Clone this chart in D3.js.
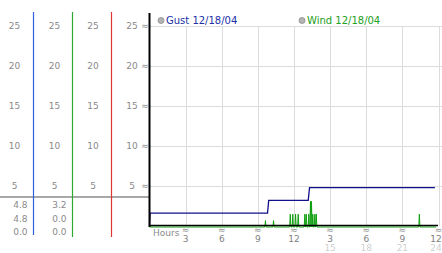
<!DOCTYPE html>
<html>
<head>
<meta charset="utf-8">
<script src="https://cdn.jsdelivr.net/npm/d3@7"></script>
<style>
  body { margin: 0; background: #fff; }
  svg { display: block; }
</style>
</head>
<body>
<svg id="container"></svg>
<script>
// values
const yTicks = [5, 10, 15, 20, 25];
const hourTicks = [3, 6, 9, 12, 15, 18, 21, 24];
const hourLabels12 = ["3", "6", "9", "12", "3", "6", "9", "12"];
const hourLabels24 = ["", "", "", "", "15", "18", "21", "24"];
const seriesNames = ["Gust 12/18/04", "Wind 12/18/04"];
const gustStats = ["4.8", "4.8", "0.0"];
const windStats = ["3.2", "0.0", "0.0"];

const gustHours = [0, 0.05, 9.8, 9.9, 13.18, 13.29, 23.7];
const gustMph   = [0, 1.6, 1.6, 3.2, 3.2, 4.8, 4.8];

const windHours = [0, 9.58, 9.63, 9.68, 10.25, 10.3, 10.35, 11.64, 11.69, 11.74,
  11.85, 11.9, 11.95, 12.08, 12.13, 12.18, 12.3, 12.35, 12.4, 12.85, 12.9, 12.95,
  12.97, 13.02, 13.07, 13.18, 13.23, 13.28, 13.32, 13.37, 13.41, 13.45, 13.5,
  13.51, 13.56, 13.61, 13.68, 13.73, 13.78, 13.8, 13.85, 13.9, 22.36, 22.41, 22.46, 23.8];
const windMph = [0, 0, 0.8, 0, 0, 0.8, 0, 0, 1.6, 0,
  0, 1.6, 0, 0, 1.6, 0, 0, 1.6, 0, 0, 1.6, 0,
  0, 1.6, 0, 0, 1.6, 0, 0, 3.2, 0, 3.2, 0,
  0, 1.6, 0, 0, 1.6, 0, 0, 1.6, 0, 0, 1.6, 0, 0];

let width = 442, height = 253;
let svg = d3.select("#container").attr("width", width).attr("height", height);

const font = "DejaVu Sans, Verdana, sans-serif";

const x = d3.scaleLinear().domain([0, 24]).range([149.5, 438.5]);
const y = d3.scaleLinear().domain([0, 25]).range([226, 26]);

// grid
svg.append("g").selectAll("line").data(yTicks).enter().append("line")
  .attr("x1", 150).attr("x2", width)
  .attr("y1", d => Math.round(y(d)) + 0.5).attr("y2", d => Math.round(y(d)) + 0.5)
  .attr("stroke", "#dcdcdc");
svg.append("g").selectAll("line").data(hourTicks).enter().append("line")
  .attr("x1", d => Math.round(x(d)) + 0.5).attr("x2", d => Math.round(x(d)) + 0.5)
  .attr("y1", y(25)).attr("y2", y(0))
  .attr("stroke", "#dcdcdc");

// left side label columns
const colCenters = [14.5, 54.5, 93, 132];
colCenters.forEach(cx => {
  svg.append("g").selectAll("text").data(yTicks).enter().append("text")
    .attr("x", cx).attr("y", d => y(d)).attr("dy", "0.35em")
    .attr("text-anchor", "middle")
    .style("font-family", font).style("font-size", "9px").style("fill", "#8a8a8a")
    .text(d => d);
});
// squiggle ticks on the left axis
svg.append("g").selectAll("text").data(yTicks).enter().append("text")
  .attr("x", 145).attr("y", d => y(d)).attr("dy", "0.35em")
  .attr("text-anchor", "middle")
  .style("font-family", font).style("font-size", "9px").style("fill", "#909090")
  .text("≈");

// gray separator
svg.append("line").attr("x1", 0).attr("x2", 149).attr("y1", 197).attr("y2", 197)
  .attr("stroke", "#a8a8a8").attr("stroke-width", 2);

// coloured column dividers
const dividers = [{x: 33.5, c: "#2f5fe0", y2: 235}, {x: 72.5, c: "#30a830", y2: 237}, {x: 111.5, c: "#e03535", y2: 237}];
svg.append("g").selectAll("line").data(dividers).enter().append("line")
  .attr("x1", d => d.x).attr("x2", d => d.x).attr("y1", 12).attr("y2", d => d.y2)
  .attr("stroke", d => d.c).attr("stroke-width", 1.2);

// stats under separator
const statRows = [205, 218.5, 231.5];
[[gustStats, 27.5], [windStats, 66.5]].forEach(([vals, rx]) => {
  svg.append("g").selectAll("text").data(vals).enter().append("text")
    .attr("x", rx).attr("y", (d, i) => statRows[i]).attr("dy", "0.35em")
    .attr("text-anchor", "end")
    .style("font-family", font).style("font-size", "9px").style("fill", "#8a8a8a")
    .text(d => d);
});

// legend
const legendX = [161, 302];
const legendColors = ["#2030a8", "#22a022"];
seriesNames.forEach((name, i) => {
  svg.append("circle").attr("cx", legendX[i]).attr("cy", 20.5).attr("r", 3)
    .attr("fill", "#b4b4b4").attr("stroke", "#8c8c8c").attr("stroke-width", 0.8);
  svg.append("text").attr("x", legendX[i] + 5).attr("y", 20.5).attr("dy", "0.35em")
    .style("font-family", font).style("font-size", "10px").style("fill", legendColors[i])
    .text(name);
});

// series lines
svg.append("path").datum(windHours.map((h, i) => [h, windMph[i]]))
  .attr("d", d3.line().x(d => x(d[0])).y(d => y(d[1]) + 1)).attr("fill", "none")
  .attr("stroke", "#10a010").attr("stroke-width", 1);
svg.append("path").datum(gustHours.map((h, i) => [h, gustMph[i]]))
  .attr("d", d3.line().x(d => x(d[0])).y(d => y(d[1]))).attr("fill", "none")
  .attr("stroke", "#10108a").attr("stroke-width", 1.3);

// axes lines
svg.append("line").attr("x1", 149.5).attr("x2", 149.5).attr("y1", 13).attr("y2", 227)
  .attr("stroke", "#000").attr("stroke-width", 2);
svg.append("line").attr("x1", 149).attr("x2", 438).attr("y1", 225.5).attr("y2", 225.5)
  .attr("stroke", "#000").attr("stroke-width", 1.3);

// x axis labels
svg.append("text").attr("x", 153).attr("y", 232.5).attr("dy", "0.35em")
  .style("font-family", font).style("font-size", "9px").style("fill", "#8a8a8a")
  .text("Hours");
svg.append("g").selectAll("text").data(hourTicks).enter().append("text")
  .attr("x", d => x(d)).attr("y", 229.5).attr("dy", "0.35em").attr("text-anchor", "middle")
  .style("font-family", font).style("font-size", "9px").style("fill", "#909090")
  .text("≈");
svg.append("g").selectAll("text").data(hourTicks).enter().append("text")
  .attr("x", d => Math.min(x(d), 436)).attr("y", 238.5).attr("dy", "0.35em").attr("text-anchor", "middle")
  .style("font-family", font).style("font-size", "9px").style("fill", "#808080")
  .text((d, i) => hourLabels12[i]);
svg.append("g").selectAll("text").data(hourTicks).enter().append("text")
  .attr("x", d => Math.min(x(d), 436)).attr("y", 247.5).attr("dy", "0.35em").attr("text-anchor", "middle")
  .style("font-family", font).style("font-size", "9px").style("fill", "#d0d0d0")
  .text((d, i) => hourLabels24[i]);
</script>
</body>
</html>
